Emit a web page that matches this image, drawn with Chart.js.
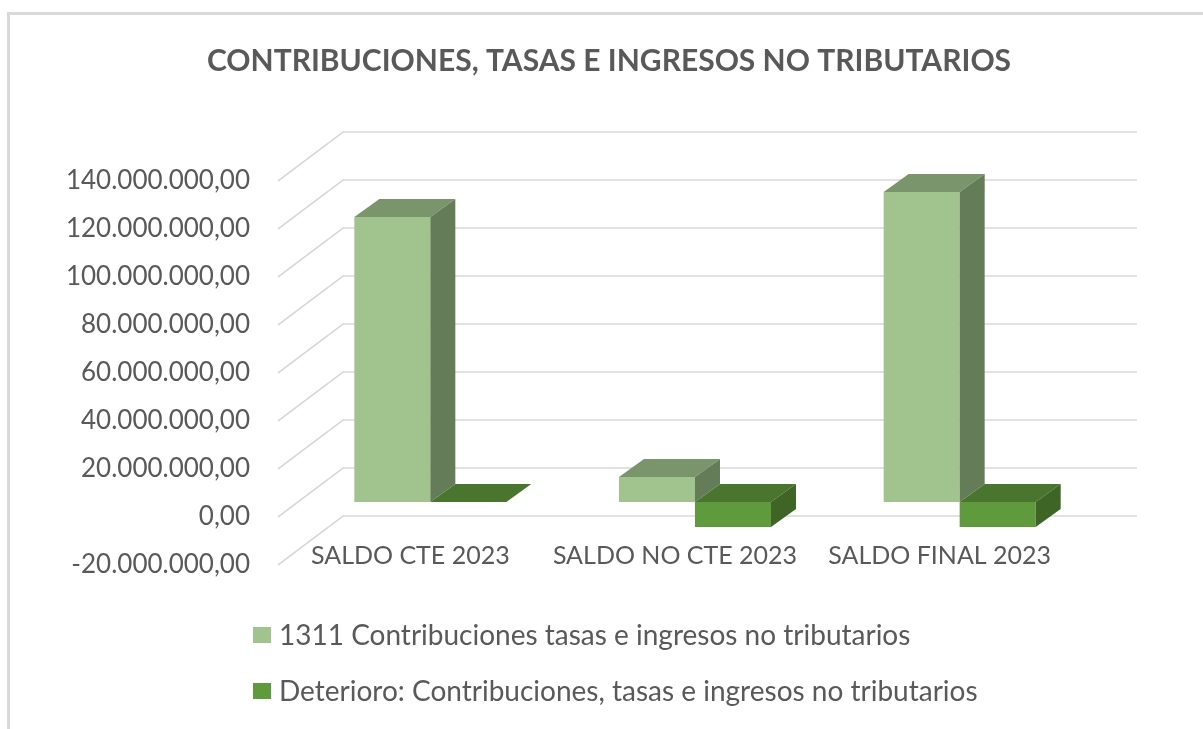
<!DOCTYPE html>
<html>
<head>
<meta charset="utf-8">
<script src="https://cdn.jsdelivr.net/npm/chart.js@4.4.1/dist/chart.umd.min.js"></script>
<style>
html,body{margin:0;padding:0;background:#ffffff;}
#wrap{width:1203px;height:729px;position:relative;}
canvas{display:block;}
</style>
</head>
<body>
<div id="wrap"><canvas id="c" width="1203" height="729"></canvas></div>
<script>
// ---- data ----
const chartTitle = 'CONTRIBUCIONES, TASAS E INGRESOS NO TRIBUTARIOS';
const categories = ['SALDO CTE 2023', 'SALDO NO CTE 2023', 'SALDO FINAL 2023'];
const seriesNames = [
  '1311 Contribuciones tasas e ingresos no tributarios',
  'Deterioro: Contribuciones, tasas e ingresos no tributarios'
];
const contribuciones = [118800000, 10400000, 129200000];
const deterioro = [0, -10400000, -10400000];
const yTicks = [-20000000, 0, 20000000, 40000000, 60000000, 80000000, 100000000, 120000000, 140000000];

// ---- styles ----
const TEXT = '#595959';
const GRID = '#D9D9D9';
const FONT = 'Lato, "Open Sans", sans-serif';
const faces = [
  { front: '#A1C48F', top: '#7A946B', side: '#647C58' },
  { front: '#5F9A3C', top: '#4A752E', side: '#3E6426' }
];
const FRONT_OFF = { x: -20, y: 15 };   // floor front plane relative to bar plane
const BACK_OFF = { x: 45, y: -34 };    // back wall relative to bar plane
const DEPTH = { x: 25, y: -18 };       // bar depth

function fmt(v) {
  const neg = v < 0;
  const s = Math.round(Math.abs(v)).toString().replace(/\B(?=(\d{3})+(?!\d))/g, '.');
  return (neg ? '-' : '') + s + ',00';
}

const frame = {
  id: 'frame',
  beforeDraw(chart) {
    const ctx = chart.ctx;
    ctx.save();
    ctx.fillStyle = '#ffffff';
    ctx.fillRect(0, 0, chart.width, chart.height);
    ctx.fillStyle = GRID;
    ctx.fillRect(7, 12, chart.width - 7, 3);
    ctx.fillRect(7, 12, 3, chart.height - 12);
    // title
    ctx.fillStyle = TEXT;
    ctx.font = 'bold 30px ' + FONT;
    ctx.textAlign = 'center';
    ctx.textBaseline = 'middle';
    ctx.fillText(chartTitle, 609, 61);
    ctx.restore();
  },
  beforeDatasetsDraw(chart) {
    const ctx = chart.ctx, ca = chart.chartArea, ys = chart.scales.y;
    ctx.save();
    ctx.strokeStyle = GRID;
    ctx.lineWidth = 1.6;
    yTicks.forEach(v => {
      const y = ys.getPixelForValue(v);
      ctx.beginPath();
      ctx.moveTo(ca.left + FRONT_OFF.x, y + FRONT_OFF.y);
      ctx.lineTo(ca.left + BACK_OFF.x, y + BACK_OFF.y);
      ctx.lineTo(ca.right + BACK_OFF.x, y + BACK_OFF.y);
      ctx.stroke();
    });
    ctx.restore();
  },
  afterDatasetsDraw(chart) {
    const ctx = chart.ctx;
    ctx.save();
    const n = categories.length;
    for (let i = 0; i < n; i++) {
      chart.data.datasets.forEach((ds, d) => {
        const el = chart.getDatasetMeta(d).data[i];
        if (!el) return;
        const p = el.getProps(['x', 'y', 'base', 'width'], true);
        const l = p.x - p.width / 2, r = p.x + p.width / 2;
        const t = Math.min(p.y, p.base), b = Math.max(p.y, p.base);
        const f = faces[d];
        // top face
        ctx.fillStyle = f.top;
        ctx.beginPath();
        ctx.moveTo(l, t);
        ctx.lineTo(l + DEPTH.x, t + DEPTH.y);
        ctx.lineTo(r + DEPTH.x, t + DEPTH.y);
        ctx.lineTo(r, t);
        ctx.closePath();
        ctx.fill();
        // side face
        if (b - t > 0.5) {
          ctx.fillStyle = f.side;
          ctx.beginPath();
          ctx.moveTo(r, t);
          ctx.lineTo(r + DEPTH.x, t + DEPTH.y);
          ctx.lineTo(r + DEPTH.x, b + DEPTH.y);
          ctx.lineTo(r, b);
          ctx.closePath();
          ctx.fill();
        }
      });
    }
    ctx.restore();
  },
  afterDraw(chart) {
    const ctx = chart.ctx;
    ctx.save();
    ctx.font = '28px ' + FONT;
    ctx.textAlign = 'left';
    ctx.textBaseline = 'middle';
    const rows = [635, 691];
    chart.data.datasets.forEach((ds, d) => {
      ctx.fillStyle = faces[d].front;
      ctx.fillRect(253, rows[d] - 8, 18, 16);
      ctx.fillStyle = TEXT;
      ctx.fillText(ds.label, 279, rows[d] + 1);
    });
    ctx.restore();
  }
};

new Chart(document.getElementById('c'), {
  type: 'bar',
  data: {
    labels: categories,
    datasets: [
      { label: seriesNames[0], data: contribuciones, backgroundColor: faces[0].front, borderWidth: 0 },
      { label: seriesNames[1], data: deterioro, backgroundColor: faces[1].front, borderWidth: 0 }
    ]
  },
  options: {
    responsive: false,
    animation: false,
    devicePixelRatio: 1,
    layout: { padding: { left: 0, right: 111, top: 166, bottom: 0 } },
    datasets: { bar: { barPercentage: 1, categoryPercentage: 0.5743 } },
    plugins: {
      legend: { display: false },
      title: { display: false },
      tooltip: { enabled: false }
    },
    scales: {
      x: {
        grid: { display: false, drawTicks: false },
        border: { display: false },
        ticks: {
          color: TEXT, font: { family: FONT, size: 25 },
          mirror: true, padding: -21, labelOffset: FRONT_OFF.x, maxRotation: 0, autoSkip: false
        },
        afterFit(s) { s.height = 179; }
      },
      y: {
        min: yTicks[0],
        max: yTicks[yTicks.length - 1],
        afterBuildTicks(s) { s.ticks = yTicks.map(v => ({ value: v })); },
        grid: { display: false, drawTicks: false },
        border: { display: false },
        ticks: {
          color: TEXT, font: { family: FONT, size: 26 },
          padding: 48, labelOffset: FRONT_OFF.y,
          callback: (v) => fmt(v)
        },
        afterFit(s) { s.width = 298; }
      }
    }
  },
  plugins: [frame]
});
</script>
</body>
</html>
